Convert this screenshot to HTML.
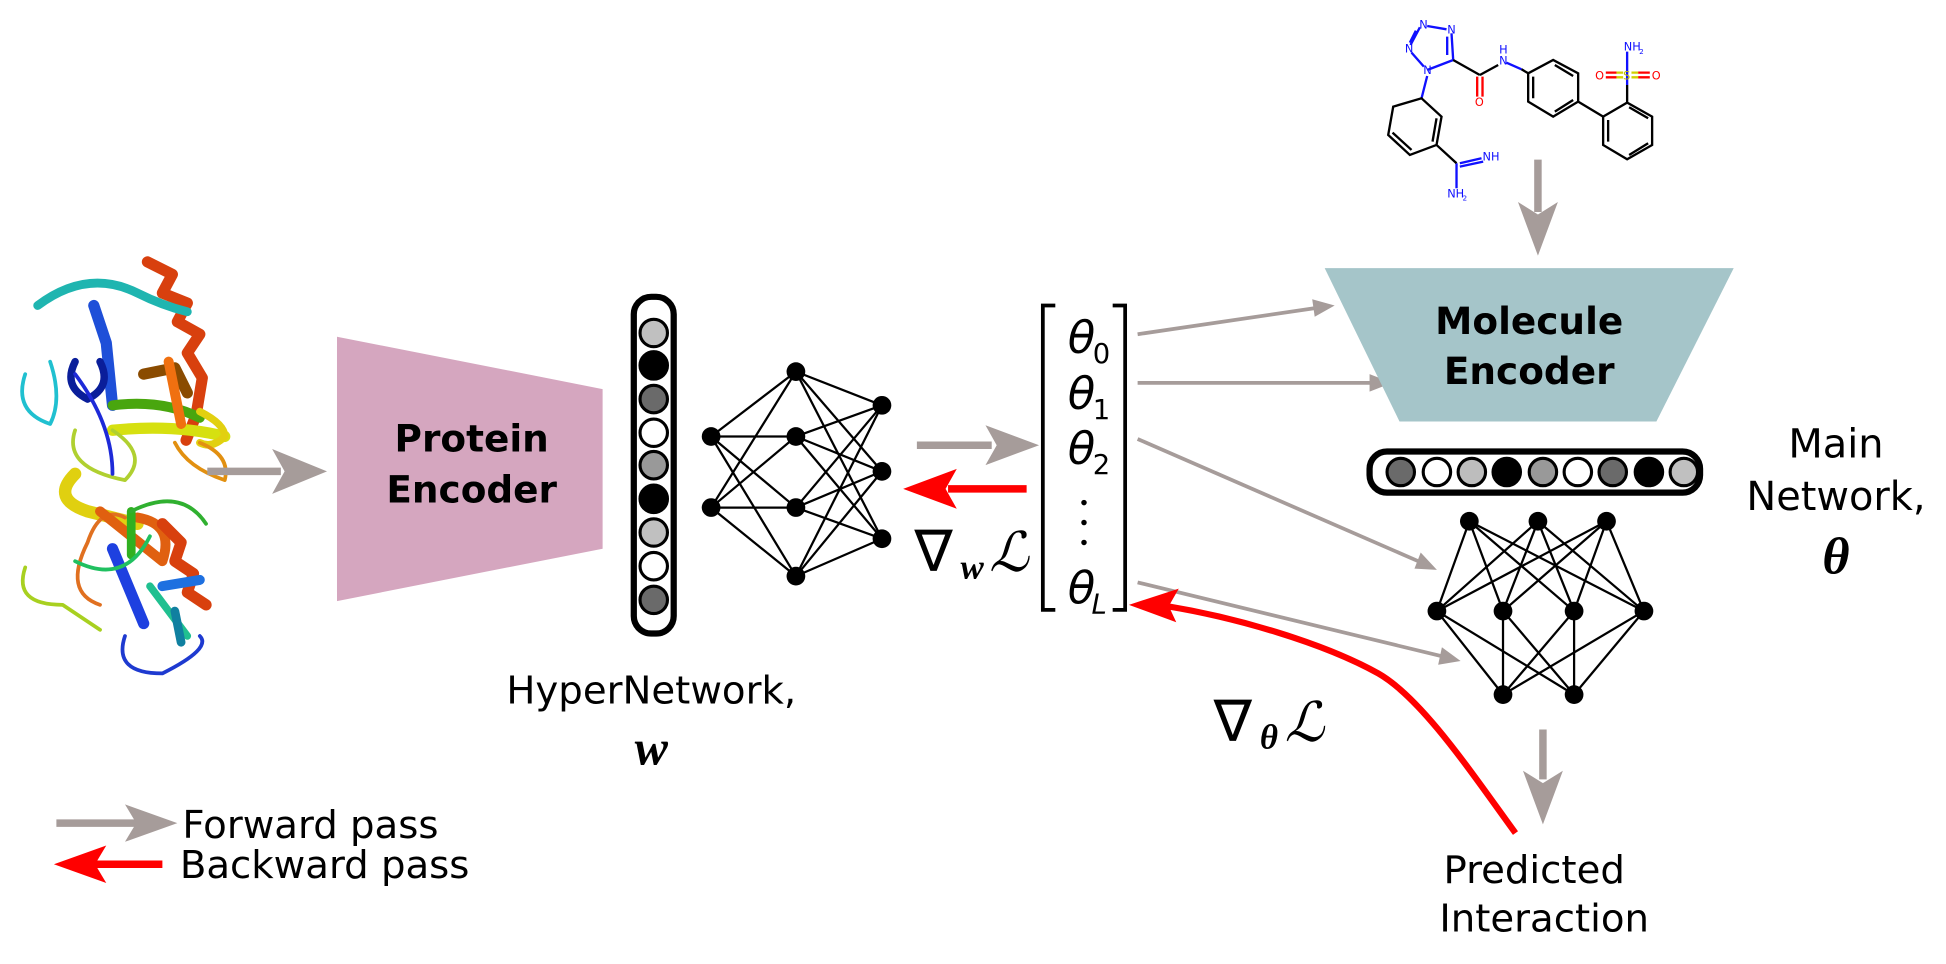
<!DOCTYPE html>
<html><head><meta charset="utf-8">
<style>
html,body{margin:0;padding:0;background:#fff;}
svg{display:block;}
text{font-family:"DejaVu Sans","Liberation Sans",sans-serif;}
.m{font-family:"Liberation Serif","DejaVu Serif",serif;font-style:italic;}
</style></head>
<body>
<svg width="1946" height="964" viewBox="0 0 1560 773" xmlns="http://www.w3.org/2000/svg">
<rect width="1560" height="773" fill="#fff"/>

<!-- proteins -->
<g fill="none" stroke-linecap="round" stroke-linejoin="round">
  <path d="M118,210 l20,10 l-8,15 l20,8 l-8,15 l18,10 l-10,15 l12,20 l-5,30 l-8,20" stroke="#d8400e" stroke-width="9"/>
  <path d="M30,245 q40,-30 80,-10 q20,10 40,15" stroke="#1fb5b0" stroke-width="7"/>
  <path d="M75,245 l10,30 l5,50" stroke="#1e4fd8" stroke-width="9"/>
  <path d="M20,300 q-10,30 20,40 q10,-20 0,-50" stroke="#20c0d0" stroke-width="3"/>
  <path d="M60,290 q-10,20 10,30 q20,-10 10,-30" stroke="#0a1e9a" stroke-width="6"/>
  <path d="M115,300 l25,-5 l10,20" stroke="#8a4b00" stroke-width="9"/>
  <path d="M90,325 q40,-5 70,10" stroke="#49a60e" stroke-width="8"/>
  <path d="M90,345 q50,-5 90,5" stroke="#d6e010" stroke-width="9"/>
  <path d="M160,330 q20,10 20,20 q-10,10 -20,5" stroke="#e2d010" stroke-width="6"/>
  <path d="M60,345 q-10,30 40,40 q20,-20 -10,-40" stroke="#b0d030" stroke-width="3"/>
  <path d="M140,355 q10,20 40,30 q5,-20 -20,-30" stroke="#e29010" stroke-width="3"/>
  <path d="M60,300 q30,40 30,80" stroke="#1e2ad8" stroke-width="3"/>
  <path d="M135,290 l10,50" stroke="#f07010" stroke-width="8"/>
  <path d="M60,380 q-20,20 10,30 l40,10" stroke="#e0d010" stroke-width="10"/>
  <path d="M100,415 q-20,-10 -30,20 q-20,40 10,50" stroke="#e07020" stroke-width="3"/>
  <path d="M80,410 l50,40 q10,-30 -20,-35" stroke="#e06010" stroke-width="8"/>
  <path d="M130,420 l15,15 l-5,15 l15,10 l-5,15 l15,10" stroke="#d8400e" stroke-width="9"/>
  <path d="M105,410 l0,35" stroke="#30b020" stroke-width="7"/>
  <path d="M90,440 l25,60" stroke="#1e40e0" stroke-width="9"/>
  <path d="M130,470 l30,-5" stroke="#1e70e0" stroke-width="8"/>
  <path d="M120,470 l30,40" stroke="#20c090" stroke-width="6"/>
  <path d="M140,490 l5,25" stroke="#1080a0" stroke-width="7"/>
  <path d="M20,455 q-10,30 30,30 l30,20" stroke="#a8d020" stroke-width="3"/>
  <path d="M100,510 q-10,30 30,30 q40,-20 30,-30" stroke="#1e3ad0" stroke-width="3"/>
  <path d="M60,450 q40,20 60,-20" stroke="#20c060" stroke-width="3"/>
  <path d="M105,410 q40,-20 60,10" stroke="#30b030" stroke-width="3"/>
</g>

<!-- arrow protein -> encoder -->
<g>
  <line x1="166" y1="378" x2="225" y2="378" stroke="#a69c9a" stroke-width="6"/>
  <path d="M262,378 L218,360 L228,378 L218,396 Z" fill="#a69c9a"/>
</g>

<g>
  <polygon points="270,270 483,312 483,440 270,482" fill="#d5a6bf"/>
  <text x="378" y="362" font-size="30" font-weight="bold" text-anchor="middle">Protein</text>
  <text x="378" y="403" font-size="30" font-weight="bold" text-anchor="middle">Encoder</text>
</g>

<g>
  <rect x="508" y="238" width="32" height="270" rx="14" fill="#fff" stroke="#000" stroke-width="5"/>
  <g stroke="#000" stroke-width="2.5">
  <circle cx="524" cy="267" r="11" fill="#c0c0c0"/>
  <circle cx="524" cy="293" r="11" fill="#000"/>
  <circle cx="524" cy="320" r="11" fill="#6a6a6a"/>
  <circle cx="524" cy="347" r="11" fill="#fff"/>
  <circle cx="524" cy="373" r="11" fill="#999"/>
  <circle cx="524" cy="400" r="11" fill="#000"/>
  <circle cx="524" cy="427" r="11" fill="#c0c0c0"/>
  <circle cx="524" cy="454" r="11" fill="#fff"/>
  <circle cx="524" cy="481" r="11" fill="#6a6a6a"/>
  </g>
</g>

<g stroke="#000" stroke-width="1.8">
  <g>
  <line x1="570" y1="350" x2="638" y2="298"/><line x1="570" y1="350" x2="638" y2="350"/><line x1="570" y1="350" x2="638" y2="407"/><line x1="570" y1="350" x2="638" y2="462"/>
  <line x1="570" y1="407" x2="638" y2="298"/><line x1="570" y1="407" x2="638" y2="350"/><line x1="570" y1="407" x2="638" y2="407"/><line x1="570" y1="407" x2="638" y2="462"/>
  <line x1="638" y1="298" x2="707" y2="325"/><line x1="638" y1="298" x2="707" y2="378"/><line x1="638" y1="298" x2="707" y2="432"/>
  <line x1="638" y1="350" x2="707" y2="325"/><line x1="638" y1="350" x2="707" y2="378"/><line x1="638" y1="350" x2="707" y2="432"/>
  <line x1="638" y1="407" x2="707" y2="325"/><line x1="638" y1="407" x2="707" y2="378"/><line x1="638" y1="407" x2="707" y2="432"/>
  <line x1="638" y1="462" x2="707" y2="325"/><line x1="638" y1="462" x2="707" y2="378"/><line x1="638" y1="462" x2="707" y2="432"/>
  </g>
  <g fill="#000" stroke="none">
  <circle cx="570" cy="350" r="7.5"/><circle cx="570" cy="407" r="7.5"/>
  <circle cx="638" cy="298" r="7.5"/><circle cx="638" cy="350" r="7.5"/><circle cx="638" cy="407" r="7.5"/><circle cx="638" cy="462" r="7.5"/>
  <circle cx="707" cy="325" r="7.5"/><circle cx="707" cy="378" r="7.5"/><circle cx="707" cy="432" r="7.5"/>
  </g>
</g>

<g>
  <text x="522" y="564" font-size="31" text-anchor="middle">HyperNetwork,</text>
  <text x="522" y="613" font-size="40" font-weight="bold" text-anchor="middle" class="m">w</text>
</g>

<g>
  <line x1="735" y1="357" x2="795" y2="357" stroke="#a69c9a" stroke-width="6"/>
  <path d="M833,357 L790,341 L799,357 L790,373 Z" fill="#a69c9a"/>
</g>
<g>
  <line x1="823" y1="392" x2="760" y2="392" stroke="#ff0000" stroke-width="6"/>
  <path d="M724,392 L767,376 L758,392 L767,408 Z" fill="#ff0000"/>
</g>
<g>
  <text x="733" y="458" font-size="46">∇</text>
  <text x="770" y="464" font-size="28" font-weight="bold" class="m">w</text>
  <text x="793" y="458" font-size="44" class="m">ℒ</text>
</g>

<g>
  <path d="M846,245 L836,245 L836,489 L846,489" fill="none" stroke="#000" stroke-width="3"/>
  <path d="M892,245 L902,245 L902,489 L892,489" fill="none" stroke="#000" stroke-width="3"/>
  <g font-size="36" class="m">
  <text x="856" y="283">θ</text><text x="876" y="291" font-size="22" font-style="normal">0</text>
  <text x="856" y="328">θ</text><text x="876" y="336" font-size="22" font-style="normal">1</text>
  <text x="856" y="372">θ</text><text x="876" y="380" font-size="22" font-style="normal">2</text>
  <text x="856" y="484">θ</text><text x="875" y="492" font-size="22">L</text>
  </g>
  <circle cx="869" cy="403" r="2.2" fill="#000"/><circle cx="869" cy="419" r="2.2" fill="#000"/><circle cx="869" cy="435" r="2.2" fill="#000"/>
</g>

<g stroke="#a69c9a" stroke-width="3" fill="#a69c9a">
  <line x1="912" y1="268" x2="1055" y2="247"/><path d="M1070,245 L1052,240 L1054,254 Z" stroke="none"/>
  <line x1="912" y1="307" x2="1100" y2="307"/><path d="M1116,307 L1098,300 L1098,314 Z" stroke="none"/>
  <line x1="912" y1="352" x2="1137" y2="450"/><path d="M1152,457 L1139,443 L1134,456 Z" stroke="none"/>
  <line x1="912" y1="467" x2="1155" y2="526"/><path d="M1171,530 L1156,519 L1153,533 Z" stroke="none"/>
</g>

<!-- molecule -->
<g transform="translate(1074.2,0) scale(0.2672)" stroke-width="7" fill="none" font-size="34">
  <g stroke="#1010ff">
    <path d="M262,210 L340,180 M340,180 L335,100 M322,110 L322,165 M320,88 L262,78 M240,82 L212,135 M228,92 L210,128 M215,158 L252,200 M262,228 L245,295 M500,188 L545,208 M360,490 L425,475 M360,500 L430,485 M350,490 L350,565 M862,255 L862,155"/>
  </g>
  <g stroke="#000">
    <path d="M340,180 L420,225 M420,225 L475,195 M545,208 L565,220 M565,220 L640,180 L715,220 L715,305 L640,350 L565,305 Z M580,230 L580,295 M645,195 L700,228 M645,335 L700,300 M715,305 L790,350 M790,350 L862,308 L937,350 L937,435 L862,478 L790,435 Z M805,360 L805,425 M868,322 L925,355 M868,465 L925,430 M862,308 L862,255 M245,295 L305,350 L290,435 L210,465 L145,405 L160,320 Z M290,355 L278,425 M215,450 L158,398 M290,435 L350,490"/>
  </g>
  <g stroke="#ff0000"><path d="M412,230 L412,290 M428,230 L428,290 M798,218 L830,218 M798,232 L830,232 M895,218 L930,218 M895,232 L930,232"/></g>
  <g stroke="#d0d000"><path d="M830,218 L850,218 M830,232 L850,232 M875,218 L895,218 M875,232 L895,232"/></g>
  <g fill="#1010ff" stroke="none">
    <text x="238" y="85">N</text><text x="322" y="100">N</text><text x="195" y="158">N</text><text x="250" y="222">N</text>
    <text x="478" y="193">N</text><text x="478" y="160">H</text>
    <text x="428" y="482">NH</text><text x="322" y="592">NH</text><text x="368" y="602" font-size="22">2</text>
    <text x="852" y="152">NH</text><text x="898" y="162" font-size="22">2</text>
  </g>
  <g fill="#ff0000" stroke="none"><text x="405" y="318">O</text><text x="766" y="238">O</text><text x="936" y="238">O</text></g>
  <text x="850" y="238" fill="#c0c000" stroke="none">S</text>
</g>

<g>
  <line x1="1233" y1="128" x2="1233" y2="170" stroke="#a69c9a" stroke-width="6"/>
  <path d="M1233,205 L1217,162 L1233,172 L1249,162 Z" fill="#a69c9a"/>
</g>

<g>
  <polygon points="1062,215 1390,215 1328,338 1122,338" fill="#a5c5c9"/>
  <text x="1226" y="268" font-size="30" font-weight="bold" text-anchor="middle">Molecule</text>
  <text x="1226" y="308" font-size="30" font-weight="bold" text-anchor="middle">Encoder</text>
</g>

<g>
  <rect x="1098" y="362" width="265" height="33" rx="14" fill="#fff" stroke="#000" stroke-width="5"/>
  <g stroke="#000" stroke-width="2.5">
  <circle cx="1123" cy="378.5" r="11" fill="#6a6a6a"/>
  <circle cx="1152" cy="378.5" r="11" fill="#fff"/>
  <circle cx="1180" cy="378.5" r="11" fill="#bdbdbd"/>
  <circle cx="1208" cy="378.5" r="11" fill="#000"/>
  <circle cx="1237" cy="378.5" r="11" fill="#999"/>
  <circle cx="1265" cy="378.5" r="11" fill="#fff"/>
  <circle cx="1293" cy="378.5" r="11" fill="#6a6a6a"/>
  <circle cx="1322" cy="378.5" r="11" fill="#000"/>
  <circle cx="1350" cy="378.5" r="11" fill="#c0c0c0"/>
  </g>
</g>

<g stroke="#000" stroke-width="1.8">
  <line x1="1178" y1="418" x2="1152" y2="490"/><line x1="1178" y1="418" x2="1205" y2="490"/><line x1="1178" y1="418" x2="1262" y2="490"/><line x1="1178" y1="418" x2="1318" y2="490"/>
  <line x1="1233" y1="418" x2="1152" y2="490"/><line x1="1233" y1="418" x2="1205" y2="490"/><line x1="1233" y1="418" x2="1262" y2="490"/><line x1="1233" y1="418" x2="1318" y2="490"/>
  <line x1="1288" y1="418" x2="1152" y2="490"/><line x1="1288" y1="418" x2="1205" y2="490"/><line x1="1288" y1="418" x2="1262" y2="490"/><line x1="1288" y1="418" x2="1318" y2="490"/>
  <line x1="1152" y1="490" x2="1205" y2="557"/><line x1="1152" y1="490" x2="1262" y2="557"/>
  <line x1="1205" y1="490" x2="1205" y2="557"/><line x1="1205" y1="490" x2="1262" y2="557"/>
  <line x1="1262" y1="490" x2="1205" y2="557"/><line x1="1262" y1="490" x2="1262" y2="557"/>
  <line x1="1318" y1="490" x2="1205" y2="557"/><line x1="1318" y1="490" x2="1262" y2="557"/>
  <g fill="#000" stroke="none">
  <circle cx="1178" cy="418" r="7.5"/><circle cx="1233" cy="418" r="7.5"/><circle cx="1288" cy="418" r="7.5"/>
  <circle cx="1152" cy="490" r="7.5"/><circle cx="1205" cy="490" r="7.5"/><circle cx="1262" cy="490" r="7.5"/><circle cx="1318" cy="490" r="7.5"/>
  <circle cx="1205" cy="557" r="7.5"/><circle cx="1262" cy="557" r="7.5"/>
  </g>
</g>

<g>
  <text x="1472" y="367" font-size="32" text-anchor="middle">Main</text>
  <text x="1472" y="409" font-size="32" text-anchor="middle">Network,</text>
  <text x="1472" y="460" font-size="42" font-weight="bold" text-anchor="middle" class="m">θ</text>
</g>

<g>
  <line x1="1237" y1="585" x2="1237" y2="625" stroke="#a69c9a" stroke-width="6"/>
  <path d="M1237,661 L1221,618 L1237,628 L1253,618 Z" fill="#a69c9a"/>
</g>

<g>
  <text x="1230" y="708" font-size="31" text-anchor="middle">Predicted</text>
  <text x="1238" y="747" font-size="31" text-anchor="middle">Interaction</text>
</g>

<g>
  <path d="M1215,668 C1180,620 1140,560 1105,540 C1060,515 990,495 935,486" fill="none" stroke="#ff0000" stroke-width="5"/>
  <path d="M905,485 L945,472 L937,486 L943,499 Z" fill="#ff0000"/>
</g>
<g>
  <text x="973" y="594" font-size="46">∇</text>
  <text x="1010" y="600" font-size="28" font-weight="bold" class="m">θ</text>
  <text x="1030" y="594" font-size="44" class="m">ℒ</text>
</g>

<g>
  <g>
    <line x1="45" y1="660" x2="110" y2="660" stroke="#a69c9a" stroke-width="6"/>
    <path d="M142,660 L100,645 L109,660 L100,675 Z" fill="#a69c9a"/>
    <text x="146" y="672" font-size="31">Forward pass</text>
  </g>
  <g>
    <line x1="130" y1="693" x2="75" y2="693" stroke="#ff0000" stroke-width="6"/>
    <path d="M43,693 L85,678 L76,693 L85,708 Z" fill="#ff0000"/>
    <text x="144" y="704" font-size="31">Backward pass</text>
  </g>
</g>
</svg>
</body></html>
